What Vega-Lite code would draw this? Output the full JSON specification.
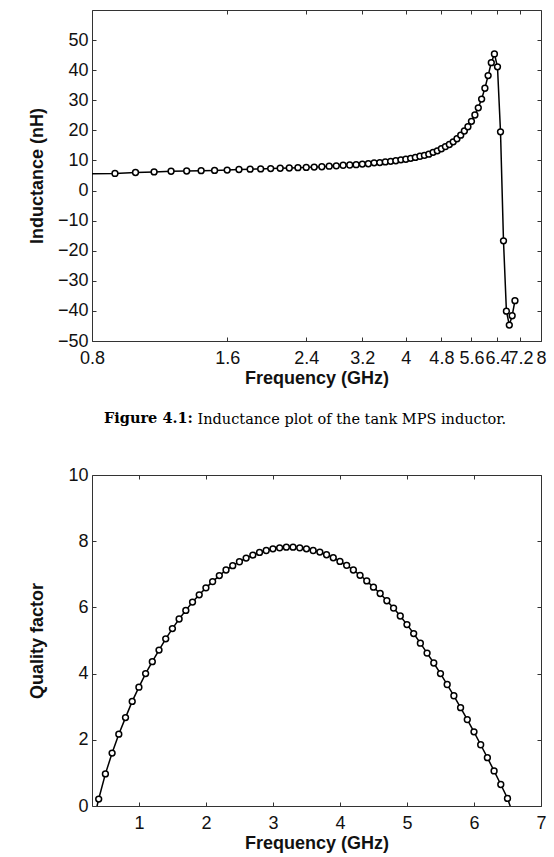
{
  "$schema": "https://vega.github.io/schema/vega-lite/v6.json",
  "padding": {"left": 28, "top": 9, "right": 5, "bottom": 5},
  "spacing": 22,
  "background": "white",
  "datasets": {
    "ind": [
      {"f": 0.7, "L": 5.45}, {"f": 0.9, "L": 5.7}, {"f": 1.0, "L": 6.0}, {"f": 1.1, "L": 6.2}, {"f": 1.2, "L": 6.4},
      {"f": 1.3, "L": 6.5}, {"f": 1.4, "L": 6.6}, {"f": 1.5, "L": 6.7}, {"f": 1.6, "L": 6.8}, {"f": 1.7, "L": 7.0},
      {"f": 1.8, "L": 7.1}, {"f": 1.9, "L": 7.2}, {"f": 2.0, "L": 7.3}, {"f": 2.1, "L": 7.4}, {"f": 2.2, "L": 7.5},
      {"f": 2.3, "L": 7.6}, {"f": 2.4, "L": 7.7}, {"f": 2.5, "L": 7.8}, {"f": 2.6, "L": 7.9}, {"f": 2.7, "L": 8.1},
      {"f": 2.8, "L": 8.2}, {"f": 2.9, "L": 8.4}, {"f": 3.0, "L": 8.5}, {"f": 3.1, "L": 8.6}, {"f": 3.2, "L": 8.8},
      {"f": 3.3, "L": 8.9}, {"f": 3.4, "L": 9.2}, {"f": 3.5, "L": 9.3}, {"f": 3.6, "L": 9.5}, {"f": 3.7, "L": 9.7},
      {"f": 3.8, "L": 9.9}, {"f": 3.9, "L": 10.2}, {"f": 4.0, "L": 10.4}, {"f": 4.1, "L": 10.7}, {"f": 4.2, "L": 11.0},
      {"f": 4.3, "L": 11.4}, {"f": 4.4, "L": 11.7}, {"f": 4.5, "L": 12.1}, {"f": 4.6, "L": 12.7}, {"f": 4.7, "L": 13.2},
      {"f": 4.8, "L": 13.9}, {"f": 4.9, "L": 14.6}, {"f": 5.0, "L": 15.3}, {"f": 5.1, "L": 16.2}, {"f": 5.2, "L": 17.2},
      {"f": 5.3, "L": 18.4}, {"f": 5.4, "L": 19.8}, {"f": 5.5, "L": 21.2}, {"f": 5.6, "L": 23.0}, {"f": 5.7, "L": 25.1},
      {"f": 5.8, "L": 27.5}, {"f": 5.9, "L": 30.4}, {"f": 6.0, "L": 34.0}, {"f": 6.1, "L": 38.2}, {"f": 6.2, "L": 42.5},
      {"f": 6.3, "L": 45.4}, {"f": 6.4, "L": 41.1}, {"f": 6.5, "L": 19.5}, {"f": 6.6, "L": -16.7}, {"f": 6.7, "L": -40.1},
      {"f": 6.8, "L": -44.7}, {"f": 6.9, "L": -41.6}, {"f": 7.0, "L": -36.6}
    ],
    "q": [
      {"f": 0.3, "Q": -0.65}, {"f": 0.4, "Q": 0.21}, {"f": 0.5, "Q": 0.97}, {"f": 0.6, "Q": 1.60}, {"f": 0.7, "Q": 2.17},
      {"f": 0.8, "Q": 2.67}, {"f": 0.9, "Q": 3.16}, {"f": 1.0, "Q": 3.59}, {"f": 1.1, "Q": 4.00}, {"f": 1.2, "Q": 4.36},
      {"f": 1.3, "Q": 4.71}, {"f": 1.4, "Q": 5.05}, {"f": 1.5, "Q": 5.36}, {"f": 1.6, "Q": 5.65}, {"f": 1.7, "Q": 5.91},
      {"f": 1.8, "Q": 6.16}, {"f": 1.9, "Q": 6.38}, {"f": 2.0, "Q": 6.59}, {"f": 2.1, "Q": 6.78}, {"f": 2.2, "Q": 6.96},
      {"f": 2.3, "Q": 7.13}, {"f": 2.4, "Q": 7.26}, {"f": 2.5, "Q": 7.38}, {"f": 2.6, "Q": 7.49}, {"f": 2.7, "Q": 7.58},
      {"f": 2.8, "Q": 7.66}, {"f": 2.9, "Q": 7.72}, {"f": 3.0, "Q": 7.77}, {"f": 3.1, "Q": 7.80}, {"f": 3.2, "Q": 7.82},
      {"f": 3.3, "Q": 7.82}, {"f": 3.4, "Q": 7.80}, {"f": 3.5, "Q": 7.77}, {"f": 3.6, "Q": 7.72}, {"f": 3.7, "Q": 7.67},
      {"f": 3.8, "Q": 7.59}, {"f": 3.9, "Q": 7.50}, {"f": 4.0, "Q": 7.39}, {"f": 4.1, "Q": 7.27}, {"f": 4.2, "Q": 7.13},
      {"f": 4.3, "Q": 6.97}, {"f": 4.4, "Q": 6.80}, {"f": 4.5, "Q": 6.61}, {"f": 4.6, "Q": 6.42}, {"f": 4.7, "Q": 6.20},
      {"f": 4.8, "Q": 5.98}, {"f": 4.9, "Q": 5.74}, {"f": 5.0, "Q": 5.48}, {"f": 5.1, "Q": 5.21}, {"f": 5.2, "Q": 4.92},
      {"f": 5.3, "Q": 4.62}, {"f": 5.4, "Q": 4.32}, {"f": 5.5, "Q": 4.00}, {"f": 5.6, "Q": 3.67}, {"f": 5.7, "Q": 3.33},
      {"f": 5.8, "Q": 2.97}, {"f": 5.9, "Q": 2.61}, {"f": 6.0, "Q": 2.24}, {"f": 6.1, "Q": 1.85}, {"f": 6.2, "Q": 1.46},
      {"f": 6.3, "Q": 1.06}, {"f": 6.4, "Q": 0.65}, {"f": 6.5, "Q": 0.23}, {"f": 6.6, "Q": -0.35}
    ]
  },
  "vconcat": [
    {
      "width": 449,
      "height": 331,
      "data": {"name": "ind"},
      "layer": [
        {
          "mark": {"type": "line", "color": "black", "strokeWidth": 1.5, "clip": true},
          "encoding": {
            "x": {"field": "f", "type": "quantitative",
              "scale": {"type": "log", "domain": [0.8, 8], "nice": false},
              "axis": {"orient": "bottom", "values": [0.8, 1.6, 2.4, 3.2, 4, 4.8, 5.6, 6.4, 7.2, 8], "format": "~r",
                "title": "Frequency (GHz)", "labelPadding": 12, "titlePadding": 2}},
            "y": {"field": "L", "type": "quantitative",
              "scale": {"domain": [-50, 60], "nice": false, "zero": false},
              "axis": {"orient": "left", "values": [-50, -40, -30, -20, -10, 0, 10, 20, 30, 40, 50], "format": "d",
                "title": "Inductance (nH)", "labelPadding": 8, "titlePadding": 10.5}}
          }
        },
        {
          "mark": {"type": "point", "shape": "circle", "filled": true, "fill": "white", "stroke": "black", "strokeWidth": 1.5, "size": 34, "opacity": 1, "clip": true},
          "encoding": {
            "x": {"field": "f", "type": "quantitative",
              "scale": {"type": "log", "domain": [0.8, 8], "nice": false},
              "axis": {"orient": "top", "values": [0.8, 1.6, 2.4, 3.2, 4, 4.8, 5.6, 6.4, 7.2, 8], "labels": false, "title": null}},
            "y": {"field": "L", "type": "quantitative",
              "scale": {"domain": [-50, 60], "nice": false, "zero": false},
              "axis": {"orient": "right", "values": [-50, -40, -30, -20, -10, 0, 10, 20, 30, 40, 50], "labels": false, "title": null}}
          }
        }
      ],
      "resolve": {"axis": {"x": "independent", "y": "independent"}}
    },
    {
      "width": 449,
      "height": 331,
      "data": {"name": "q"},
      "title": {"text": "Figure 4.1:", "orient": "top", "anchor": "start", "frame": "group", "dx": 12, "offset": -15,
        "font": "DejaVu Serif", "fontSize": 14.5, "fontWeight": "bold", "color": "black"},
      "layer": [
        {
          "mark": {"type": "line", "color": "black", "strokeWidth": 1.5, "clip": true},
          "encoding": {
            "x": {"field": "f", "type": "quantitative",
              "scale": {"domain": [0.3, 7], "nice": false, "zero": false},
              "axis": {"orient": "bottom", "values": [1, 2, 3, 4, 5, 6, 7], "format": "d",
                "title": "Frequency (GHz)", "labelPadding": 12, "titlePadding": 2}},
            "y": {"field": "Q", "type": "quantitative",
              "scale": {"domain": [0, 10], "nice": false},
              "axis": {"orient": "left", "values": [0, 2, 4, 6, 8, 10], "format": "d",
                "title": "Quality factor", "labelPadding": 8, "titlePadding": 21}}
          }
        },
        {
          "mark": {"type": "point", "shape": "circle", "filled": true, "fill": "white", "stroke": "black", "strokeWidth": 1.5, "size": 34, "opacity": 1, "clip": true},
          "encoding": {
            "x": {"field": "f", "type": "quantitative",
              "scale": {"domain": [0.3, 7], "nice": false, "zero": false},
              "axis": {"orient": "top", "values": [1, 2, 3, 4, 5, 6, 7], "labels": false,
                "title": "Inductance plot of the tank MPS inductor.", "titleFont": "DejaVu Serif", "titleFontSize": 14.5,
                "titleFontWeight": "normal", "titleColor": "black", "titleAnchor": "start", "titleAlign": "left",
                "titleX": 105, "titlePadding": 48.5}},
            "y": {"field": "Q", "type": "quantitative",
              "scale": {"domain": [0, 10], "nice": false},
              "axis": {"orient": "right", "values": [0, 2, 4, 6, 8, 10], "labels": false, "title": null}}
          }
        }
      ],
      "resolve": {"axis": {"x": "independent", "y": "independent"}}
    }
  ],
  "config": {
    "view": {"stroke": "#333333", "strokeWidth": 1},
    "axis": {
      "grid": false,
      "domain": false,
      "tickSize": -4,
      "tickColor": "#333333",
      "tickWidth": 1,
      "labelFont": "Liberation Sans",
      "labelFontSize": 18,
      "labelColor": "#111111",
      "labelFlush": false,
      "labelOverlap": false,
      "titleFont": "Liberation Sans",
      "titleFontSize": 18,
      "titleFontWeight": "bold",
      "titleColor": "#111111"
    }
  }
}
